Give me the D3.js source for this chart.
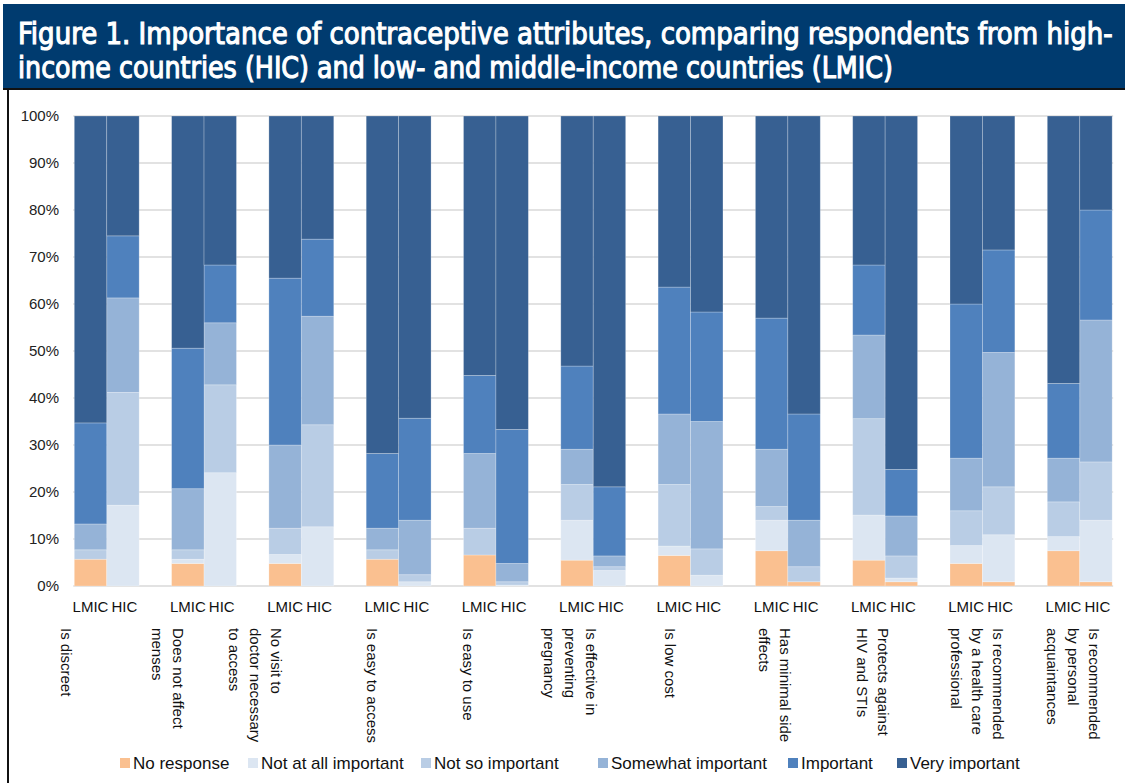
<!DOCTYPE html>
<html>
<head>
<meta charset="utf-8">
<script src="https://cdn.jsdelivr.net/npm/d3@7"></script>
<style>
  html, body { margin: 0; padding: 0; background: #fff; }
  svg { display: block; }
  text { font-family: "Liberation Sans", Arial, sans-serif; }
</style>
</head>
<body>
<svg id="chart" width="1125" height="783"></svg>
<script>
// ---------------- DATA ----------------
const titleLines = [
  "Figure 1. Importance of contraceptive attributes, comparing respondents from high-",
  "income countries (HIC) and low- and middle-income countries (LMIC)"
];
const categories = [
  "Is discreet", "Does not affect menses", "No visit to doctor necessary to access",
  "Is easy to access", "Is easy to use", "Is effective in preventing pregnancy",
  "Is low cost", "Has minimal side effects", "Protects against HIV and STIs",
  "Is recommended by a health care professional", "Is recommended by personal acquaintances"
];
const categoryLines = [
  ["Is discreet"], ["Does not affect", "menses"], ["No visit to", "doctor necessary", "to access"],
  ["Is easy to access"], ["Is easy to use"], ["Is effective in", "preventing", "pregnancy"],
  ["Is low cost"], ["Has minimal side", "effects"], ["Protects against", "HIV and STIs"],
  ["Is recommended", "by a health care", "professional"], ["Is recommended", "by personal", "acquaintances"]
];
const groups = ["LMIC", "HIC"];
const seriesNames = ["No response", "Not at all important", "Not so important",
                     "Somewhat important", "Important", "Very important"];

// LMIC segment values (%)
const lmicNoResponse = [5.7, 4.8, 4.8, 5.7, 6.6, 5.5, 6.5, 7.5, 5.5, 4.8, 7.5];
const lmicNotAtAll   = [0.0, 0.9, 1.9, 0.0, 0.0, 8.5, 2.0, 6.5, 9.6, 3.8, 3.0];
const lmicNotSo      = [2.0, 2.0, 5.6, 2.0, 5.7, 7.6, 13.1, 2.9, 20.5, 7.4, 7.4];
const lmicSomewhat   = [5.5, 13.0, 17.7, 4.6, 15.9, 7.5, 15.0, 12.2, 17.8, 11.2, 9.3];
const lmicImportant  = [21.5, 29.9, 35.5, 15.9, 16.6, 17.7, 27.0, 27.9, 14.9, 32.8, 15.9];
const lmicVery       = [65.3, 49.4, 34.5, 71.8, 55.2, 53.2, 36.4, 43.0, 31.7, 40.0, 56.9];

// HIC segment values (%)
const hicNoResponse = [0.0, 0.0, 0.0, 0.0, 0.0, 0.0, 0.0, 0.9, 0.9, 0.9, 0.9];
const hicNotAtAll   = [17.2, 24.1, 12.6, 0.9, 0.2, 3.3, 2.3, 0.0, 0.8, 10.0, 13.1];
const hicNotSo      = [24.0, 18.7, 21.7, 1.5, 0.7, 0.8, 5.6, 3.2, 4.7, 10.2, 12.4];
const hicSomewhat   = [20.1, 13.2, 23.1, 11.6, 3.9, 2.3, 27.1, 9.9, 8.5, 28.6, 30.2];
const hicImportant  = [13.2, 12.3, 16.4, 21.7, 28.5, 14.7, 23.3, 22.6, 9.9, 21.8, 23.4];
const hicVery       = [25.5, 31.7, 26.2, 64.3, 66.7, 78.9, 41.7, 63.4, 75.2, 28.5, 20.0];

const yTicks = [0, 10, 20, 30, 40, 50, 60, 70, 80, 90, 100];

// ---------------- LAYOUT / STYLE ----------------
const colors = ["#FAC090", "#DCE6F2", "#B9CDE5", "#95B3D7", "#4F81BD", "#376092"];
const labelOffsets = [-8, 6.5, 8, 6, 4.5, 31, 12, 30.5, 30.5, 48, 47.5]; // first-line x offset from band start
const legendX = [120, 248, 421, 598, 788, 897];

const svg = d3.select("#chart");
const W = 1125, H = 783;

// Title block
svg.append("rect").attr("x", 3).attr("y", 4).attr("width", W - 3).attr("height", 85).attr("fill", "#003B6F");
svg.append("rect").attr("x", 3).attr("y", 88).attr("width", W - 3).attr("height", 2).attr("fill", "#111");
svg.append("rect").attr("x", 7).attr("y", 89).attr("width", 2).attr("height", H - 89).attr("fill", "#111");

const titleTargets = [1095, 875];
const titleBase = [44, 77.5];
titleLines.forEach((line, i) => {
  const g = svg.append("g");
  const t = g.append("text")
    .attr("x", 0).attr("y", 0)
    .attr("fill", "#fff")
    .attr("stroke", "#fff").attr("stroke-width", 1.1)
    .style("font-family", "'Liberation Sans Narrow', 'DejaVu Sans Condensed', 'Liberation Sans', sans-serif")
    .style("font-weight", "normal")
    .style("font-size", "30px")
    .text(line);
  const len = t.node().getComputedTextLength();
  const sx = titleTargets[i] / len;
  g.attr("transform", `translate(18,${titleBase[i]}) scale(${sx},1)`);
});

// Scales
const plotLeft = 74.3, period = 97.3;
const x = d3.scaleBand().domain(categories).range([plotLeft, plotLeft + period * categories.length]).padding(0);
const xg = d3.scaleBand().domain(groups).range([0, x.bandwidth() * 2 / 3]).padding(0);
const y = d3.scaleLinear().domain([0, 100]).range([586, 116]);
const plotRight = x(categories[categories.length - 1]) + xg.range()[1];

// Gridlines
svg.append("g").selectAll("line").data(yTicks).join("line")
  .attr("x1", plotLeft - 1).attr("x2", plotRight + 1)
  .attr("y1", d => y(d)).attr("y2", d => y(d))
  .attr("stroke", "#D9D9D9").attr("stroke-width", 1.5);

// Y axis labels
const yAxis = d3.axisLeft(y).tickValues(yTicks).tickFormat(d => d + "%").tickSize(0).tickPadding(0);
const yg = svg.append("g").attr("transform", "translate(59,0)").call(yAxis);
yg.select(".domain").remove();
yg.selectAll("text").style("font-size", "15px").attr("fill", "#222").style("font-family", "'Liberation Sans', sans-serif");

// Build rows
const lmicSeries = [lmicNoResponse, lmicNotAtAll, lmicNotSo, lmicSomewhat, lmicImportant, lmicVery];
const hicSeries = [hicNoResponse, hicNotAtAll, hicNotSo, hicSomewhat, hicImportant, hicVery];
const rows = [];
categories.forEach((c, i) => {
  groups.forEach(g => {
    const src = g === "LMIC" ? lmicSeries : hicSeries;
    const r = { cat: c, grp: g };
    seriesNames.forEach((s, k) => r[s] = src[k][i]);
    rows.push(r);
  });
});
const stacked = d3.stack().keys(seriesNames)(rows);

svg.append("g").selectAll("g").data(stacked).join("g")
  .attr("fill", (d, i) => colors[i])
  .selectAll("rect").data(d => d).join("rect")
  .attr("x", d => x(d.data.cat) + xg(d.data.grp))
  .attr("width", xg.bandwidth())
  .attr("y", d => y(d[1]))
  .attr("height", d => Math.max(0, y(d[0]) - y(d[1])))
  .attr("stroke", "#ffffff").attr("stroke-opacity", 0.3).attr("stroke-width", 0.8);

// Group labels LMIC / HIC
const gl = svg.append("g");
categories.forEach(c => {
  groups.forEach(g => {
    gl.append("text")
      .attr("x", x(c) + xg(g) + xg.bandwidth() / 2 + (g === "HIC" ? 1.5 : 0))
      .attr("y", 612)
      .attr("text-anchor", "middle")
      .style("font-size", "15px").attr("fill", "#111")
      .text(g);
  });
});

// Category labels (rotated)
const cl = svg.append("g");
categories.forEach((c, i) => {
  const x0 = x(c) + labelOffsets[i];
  categoryLines[i].forEach((line, j) => {
    cl.append("text")
      .attr("transform", `translate(${x0 - j * 21},628) rotate(90)`)
      .attr("dominant-baseline", "central")
      .style("font-size", "15px").attr("fill", "#111")
      .text(line);
  });
});

// Legend
const lg = svg.append("g");
seriesNames.forEach((s, i) => {
  lg.append("rect").attr("x", legendX[i]).attr("y", 758).attr("width", 10).attr("height", 10).attr("fill", colors[i]);
  lg.append("text").attr("x", legendX[i] + 13).attr("y", 763.5).attr("dominant-baseline", "central")
    .style("font-size", "17px").attr("fill", "#111").text(s);
});
</script>
</body>
</html>
